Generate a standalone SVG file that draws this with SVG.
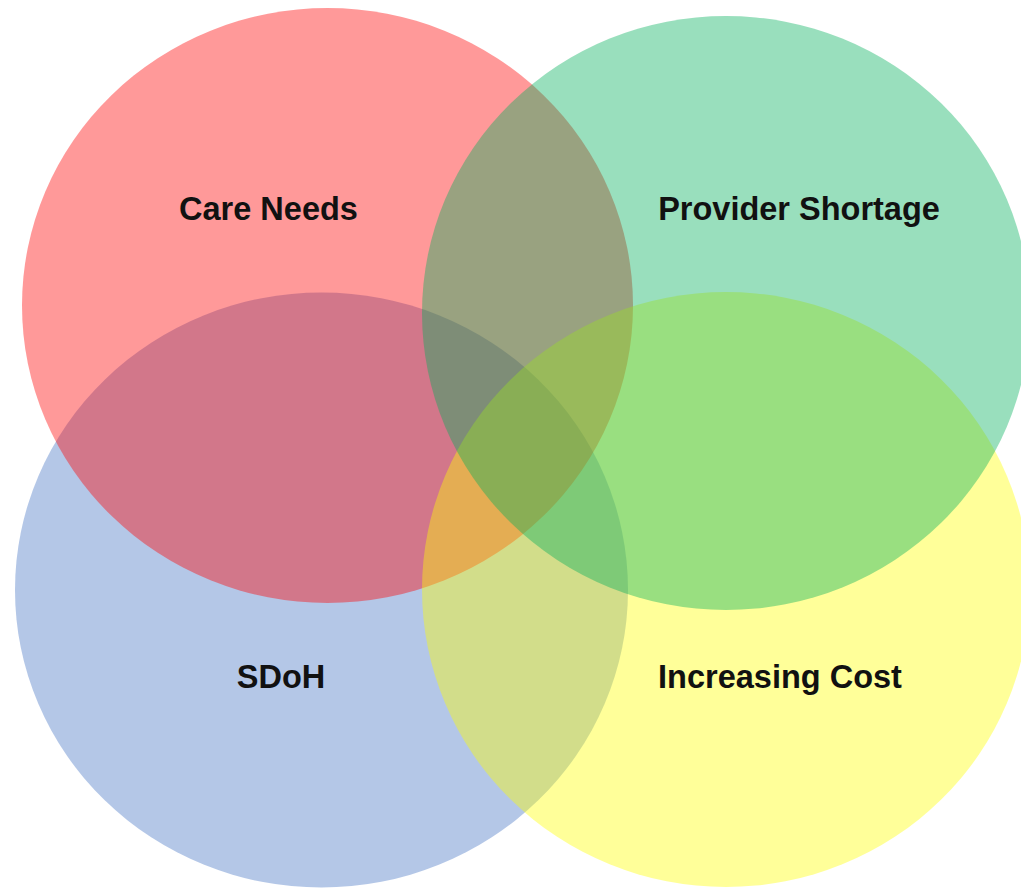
<svg xmlns="http://www.w3.org/2000/svg" width="1021" height="889" viewBox="0 0 1021 889">
<style>
.set{fill-opacity:0.4;stroke:none}
.lbl{font-family:"Liberation Sans",Arial,sans-serif;font-weight:bold;font-size:32.5px;fill:#111;text-anchor:middle}
</style>
<rect width="1021" height="889" fill="#fff"/>
<g id="sdoh"><ellipse class="set" cx="321.5" cy="590" rx="306.5" ry="297.5" fill="#4472C4"/></g>
<g id="care-needs"><ellipse class="set" cx="327.5" cy="305.5" rx="305.5" ry="297.5" fill="#FF0000"/></g>
<g id="increasing-cost"><ellipse class="set" cx="726" cy="589.5" rx="304" ry="297.5" fill="#FFFF00"/></g>
<g id="provider-shortage"><ellipse class="set" cx="726" cy="313" rx="304" ry="297" fill="#00B05A"/></g>
<g id="labels">
<text class="lbl" x="268.5" y="220">Care Needs</text>
<text class="lbl" x="799" y="220">Provider Shortage</text>
<text class="lbl" x="281" y="688">SDoH</text>
<text class="lbl" x="780" y="688">Increasing Cost</text>
</g>
<g id="connectors"/>
</svg>
